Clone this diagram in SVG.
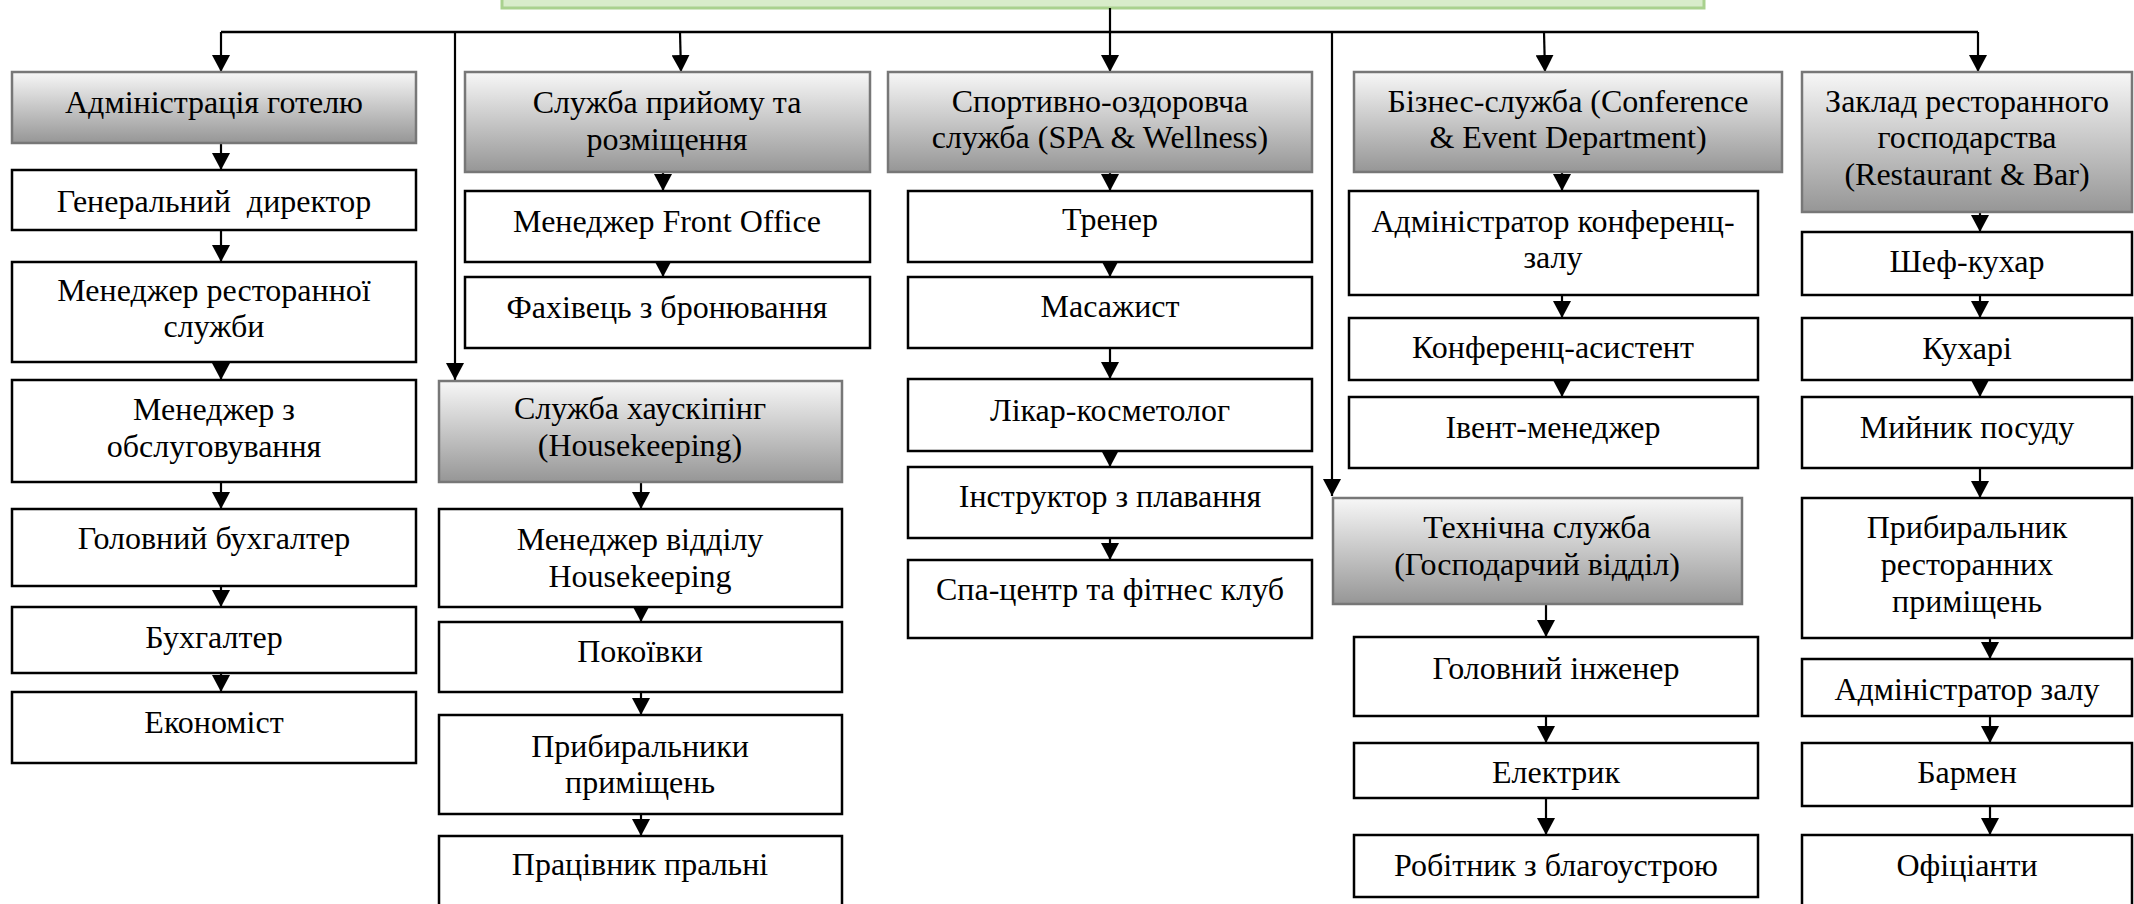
<svg xmlns="http://www.w3.org/2000/svg" width="2134" height="904" viewBox="0 0 2134 904">
<style>
.b{fill:#fff;stroke:#000;stroke-width:2.5}
.h{fill:url(#g);stroke:#777;stroke-width:2.5}
text{font-family:"Liberation Serif","Times New Roman",serif;font-size:32px;fill:#000;text-anchor:middle}
.c{fill:none;stroke:#000;stroke-width:2.2;marker-end:url(#a)}
.l{fill:none;stroke:#000;stroke-width:2.5}
</style>
<defs>
<linearGradient id="g" x1="0" y1="0" x2="0" y2="1">
<stop offset="0" stop-color="#f7f7f7"/>
<stop offset="1" stop-color="#969696"/>
</linearGradient>
<marker id="a" markerUnits="userSpaceOnUse" markerWidth="18" markerHeight="18" refX="17" refY="9" orient="auto">
<path d="M0,0 L17,9 L0,18 Z" fill="#000"/>
</marker>
</defs>
<g id="top"><rect x="502" y="-20" width="1202" height="28" fill="#d8ecca" stroke="#a9d18e" stroke-width="3"/></g>
<g id="connectors">
<path class="l" d="M221,32 H1978"/>
<path class="c" d="M221,32 V72"/>
<path class="c" d="M455,32 V380"/>
<path class="c" d="M680,32 L681,72"/>
<path class="c" d="M1110,8 V72"/>
<path class="c" d="M1332,32 V496"/>
<path class="c" d="M1544,32 L1545,72"/>
<path class="c" d="M1978,32 V72"/>
<path class="c" d="M221,143 V170"/>
<path class="c" d="M221,230 V262"/>
<path class="c" d="M221,362 V380"/>
<path class="c" d="M221,482 V509"/>
<path class="c" d="M221,586 V607"/>
<path class="c" d="M221,673 V692"/>
<path class="c" d="M663,172 V191"/>
<path class="c" d="M663,262 V277"/>
<path class="c" d="M641,482 V509"/>
<path class="c" d="M641,607 V622"/>
<path class="c" d="M641,692 V715"/>
<path class="c" d="M641,814 V836"/>
<path class="c" d="M1110,172 V191"/>
<path class="c" d="M1110,262 V277"/>
<path class="c" d="M1110,348 V379"/>
<path class="c" d="M1110,451 V467"/>
<path class="c" d="M1110,538 V560"/>
<path class="c" d="M1562,172 V191"/>
<path class="c" d="M1562,295 V318"/>
<path class="c" d="M1562,380 V397"/>
<path class="c" d="M1546,604 V637"/>
<path class="c" d="M1546,716 V743"/>
<path class="c" d="M1546,798 V835"/>
<path class="c" d="M1980,212 V232"/>
<path class="c" d="M1980,295 V318"/>
<path class="c" d="M1980,380 V397"/>
<path class="c" d="M1980,468 V498"/>
<path class="c" d="M1990,638 V659"/>
<path class="c" d="M1990,716 V743"/>
<path class="c" d="M1990,806 V835"/>
</g>
<g id="n-admin"><rect class="h" x="12" y="72" width="404" height="71"/><text x="214" y="113">Адміністрація готелю</text></g>
<g id="n-gen"><rect class="b" x="12" y="170" width="404" height="60"/><text x="214" y="212" xml:space="preserve">Генеральний  директор</text></g>
<g id="n-mrs"><rect class="b" x="12" y="262" width="404" height="100"/><text x="214" y="301">Менеджер ресторанної</text><text x="214" y="337">служби</text></g>
<g id="n-mzo"><rect class="b" x="12" y="380" width="404" height="102"/><text x="214" y="420">Менеджер з</text><text x="214" y="457">обслуговування</text></g>
<g id="n-gb"><rect class="b" x="12" y="509" width="404" height="77"/><text x="214" y="549">Головний бухгалтер</text></g>
<g id="n-b"><rect class="b" x="12" y="607" width="404" height="66"/><text x="214" y="648">Бухгалтер</text></g>
<g id="n-e"><rect class="b" x="12" y="692" width="404" height="71"/><text x="214" y="733">Економіст</text></g>

<g id="n-front"><rect class="h" x="465" y="72" width="405" height="100"/><text x="667" y="113">Служба прийому та</text><text x="667" y="150">розміщення</text></g>
<g id="n-fo"><rect class="b" x="465" y="191" width="405" height="71"/><text x="667" y="232">Менеджер Front Office</text></g>
<g id="n-fb"><rect class="b" x="465" y="277" width="405" height="71"/><text x="667" y="318">Фахівець з бронювання</text></g>

<g id="n-hk"><rect class="h" x="439" y="381" width="403" height="101"/><text x="640" y="419">Служба хаускіпінг</text><text x="640" y="456">(Housekeeping)</text></g>
<g id="n-mhk"><rect class="b" x="439" y="509" width="403" height="98"/><text x="640" y="550">Менеджер відділу</text><text x="640" y="587">Housekeeping</text></g>
<g id="n-pk"><rect class="b" x="439" y="622" width="403" height="70"/><text x="640" y="662">Покоївки</text></g>
<g id="n-pp"><rect class="b" x="439" y="715" width="403" height="99"/><text x="640" y="757">Прибиральники</text><text x="640" y="793">приміщень</text></g>
<g id="n-prl"><rect class="b" x="439" y="836" width="403" height="72"/><text x="640" y="875">Працівник пральні</text></g>

<g id="n-spa"><rect class="h" x="888" y="72" width="424" height="100"/><text x="1100" y="112">Спортивно-оздоровча</text><text x="1100" y="148">служба (SPA &amp; Wellness)</text></g>
<g id="n-tr"><rect class="b" x="908" y="191" width="404" height="71"/><text x="1110" y="230">Тренер</text></g>
<g id="n-ms"><rect class="b" x="908" y="277" width="404" height="71"/><text x="1110" y="317">Масажист</text></g>
<g id="n-lk"><rect class="b" x="908" y="379" width="404" height="72"/><text x="1110" y="421">Лікар-косметолог</text></g>
<g id="n-ip"><rect class="b" x="908" y="467" width="404" height="71"/><text x="1110" y="507">Інструктор з плавання</text></g>
<g id="n-sc"><rect class="b" x="908" y="560" width="404" height="78"/><text x="1110" y="600">Спа-центр та фітнес клуб</text></g>

<g id="n-biz"><rect class="h" x="1354" y="72" width="428" height="100"/><text x="1568" y="112">Бізнес-служба (Conference</text><text x="1568" y="148">&amp; Event Department)</text></g>
<g id="n-akz"><rect class="b" x="1349" y="191" width="409" height="104"/><text x="1553" y="232">Адміністратор конференц-</text><text x="1553" y="268">залу</text></g>
<g id="n-ka"><rect class="b" x="1349" y="318" width="409" height="62"/><text x="1553" y="358">Конференц-асистент</text></g>
<g id="n-im"><rect class="b" x="1349" y="397" width="409" height="71"/><text x="1553" y="438">Івент-менеджер</text></g>

<g id="n-tech"><rect class="h" x="1333" y="498" width="409" height="106"/><text x="1537" y="538">Технічна служба</text><text x="1537" y="575">(Господарчий відділ)</text></g>
<g id="n-gi"><rect class="b" x="1354" y="637" width="404" height="79"/><text x="1556" y="679">Головний інженер</text></g>
<g id="n-el"><rect class="b" x="1354" y="743" width="404" height="55"/><text x="1556" y="783">Електрик</text></g>
<g id="n-rb"><rect class="b" x="1354" y="835" width="404" height="62"/><text x="1556" y="876">Робітник з благоустрою</text></g>

<g id="n-rest"><rect class="h" x="1802" y="72" width="330" height="140"/><text x="1967" y="112">Заклад ресторанного</text><text x="1967" y="148">господарства</text><text x="1967" y="185">(Restaurant &amp; Bar)</text></g>
<g id="n-shef"><rect class="b" x="1802" y="232" width="330" height="63"/><text x="1967" y="272">Шеф-кухар</text></g>
<g id="n-kuh"><rect class="b" x="1802" y="318" width="330" height="62"/><text x="1967" y="359">Кухарі</text></g>
<g id="n-myin"><rect class="b" x="1802" y="397" width="330" height="71"/><text x="1967" y="438">Мийник посуду</text></g>
<g id="n-prr"><rect class="b" x="1802" y="498" width="330" height="140"/><text x="1967" y="538">Прибиральник</text><text x="1967" y="575">ресторанних</text><text x="1967" y="612">приміщень</text></g>
<g id="n-az"><rect class="b" x="1802" y="659" width="330" height="57"/><text x="1967" y="700">Адміністратор залу</text></g>
<g id="n-bar"><rect class="b" x="1802" y="743" width="330" height="63"/><text x="1967" y="783">Бармен</text></g>
<g id="n-of"><rect class="b" x="1802" y="835" width="330" height="73"/><text x="1967" y="876">Офіціанти</text></g>
</svg>
